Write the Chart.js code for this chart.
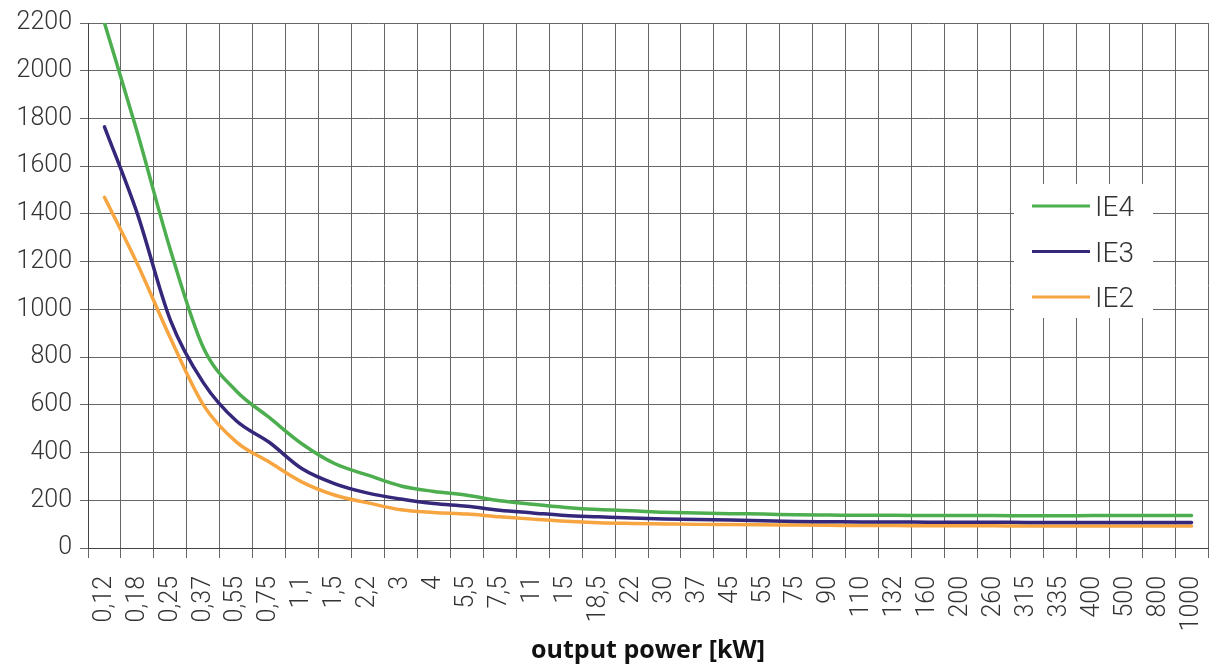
<!DOCTYPE html>
<html>
<head>
<meta charset="utf-8">
<script src="https://cdn.jsdelivr.net/npm/chart.js@4.4.1/dist/chart.umd.min.js"></script>
<style>
  body { margin: 0; background: #fff; }
  canvas { display: block; }
</style>
</head>
<body>
<canvas id="effChart" width="1209" height="666"></canvas>
<script>
// output power categories (kW)
const powerLabels = ['0,12', '0,18', '0,25', '0,37', '0,55', '0,75', '1,1', '1,5', '2,2', '3', '4', '5,5', '7,5', '11', '15', '18,5',
    '22', '30', '37', '45', '55', '75', '90', '110', '132', '160', '200', '260', '315', '335', '400', '500', '800', '1000'];

// values
const ie4 = [2200, 1740, 1250, 840, 658, 547, 436, 353, 305, 260, 237, 221, 198, 183, 170, 161,
    156, 150, 147, 144, 142, 139, 138, 137, 137, 136, 136, 136, 135, 135, 136, 136, 136, 136];
const ie3 = [1765, 1400, 955, 693, 533, 443, 332, 269, 230, 205, 186, 175, 158, 147, 136, 131,
    126, 122, 119, 117, 114, 111, 110, 109, 109, 108, 108, 108, 107, 107, 107, 107, 107, 107];
const ie2 = [1470, 1190, 880, 600, 445, 360, 276, 221, 189, 160, 149, 142, 131, 121, 112, 106,
    103, 101, 99, 98, 97, 96, 95, 94, 94, 93, 93, 93, 92, 92, 92, 92, 92, 92];

const seriesNames = ['IE4', 'IE3', 'IE2'];
const seriesColors = ['#4dae4f', '#35277a', '#f7a540'];

const tickFont = { family: 'Roboto', size: 25, weight: '300' };
const gridColor = '#666';

// legend drawn inside the plot on a white box
const boxLegend = {
    id: 'boxLegend',
    beforeDatasetsDraw(chart) {
        const ctx = chart.ctx;
        const area = chart.chartArea;
        const x0 = area.right - 194;
        const y0 = area.top + 161;
        ctx.save();
        ctx.fillStyle = '#fff';
        ctx.fillRect(x0, y0, 139, 134);
        ctx.font = '300 28px Roboto';
        ctx.textBaseline = 'middle';
        chart.data.datasets.forEach((ds, i) => {
            const y = y0 + 22 + i * 45.5;
            ctx.strokeStyle = ds.borderColor;
            ctx.lineWidth = 3;
            ctx.beginPath();
            ctx.moveTo(x0 + 18, y);
            ctx.lineTo(x0 + 76, y);
            ctx.stroke();
            ctx.fillStyle = '#333';
            ctx.fillText(ds.label, x0 + 81, y + 3);
        });
        ctx.restore();
    }
};

const ctx = document.getElementById('effChart').getContext('2d');
const effChart = new Chart(ctx, {
    type: 'line',
    data: {
        labels: powerLabels,
        datasets: [ie4, ie3, ie2].map((vals, i) => ({
            label: seriesNames[i],
            data: vals,
            borderColor: seriesColors[i],
            borderWidth: 3.5,
            pointRadius: 0,
            cubicInterpolationMode: 'monotone',
            borderCapStyle: 'round',
            fill: false
        }))
    },
    options: {
        responsive: false,
        animation: false,
        devicePixelRatio: 1,
        layout: { padding: { top: 20, right: 1, bottom: 0, left: 0 } },
        plugins: {
            legend: { display: false },
            tooltip: { enabled: false }
        },
        scales: {
            x: {
                offset: true,
                grid: {
                    offset: true,
                    color: gridColor,
                    lineWidth: 1,
                    tickLength: 10
                },
                border: { color: '#444', width: 1 },
                ticks: {
                    autoSkip: false,
                    maxRotation: 90,
                    minRotation: 90,
                    padding: 18,
                    color: '#333',
                    font: tickFont
                },
                title: {
                    display: true,
                    text: 'output power [kW]',
                    color: '#111',
                    font: { family: 'Open Sans', size: 25, weight: 'bold' },
                    padding: { top: 0, bottom: 0 }
                },
                afterFit(scale) {
                    scale.height = 118;
                    scale.paddingLeft = 0;
                    scale.paddingRight = 0;
                }
            },
            y: {
                min: 0,
                max: 2200,
                grid: {
                    color: gridColor,
                    lineWidth: 1,
                    tickLength: 8
                },
                border: { color: '#444', width: 1 },
                ticks: {
                    stepSize: 200,
                    padding: 8,
                    color: '#333',
                    font: tickFont,
                    callback: (value) => String(value)
                },
                afterFit(scale) {
                    scale.width = 88;
                }
            }
        }
    },
    plugins: [boxLegend]
});
</script>
</body>
</html>
